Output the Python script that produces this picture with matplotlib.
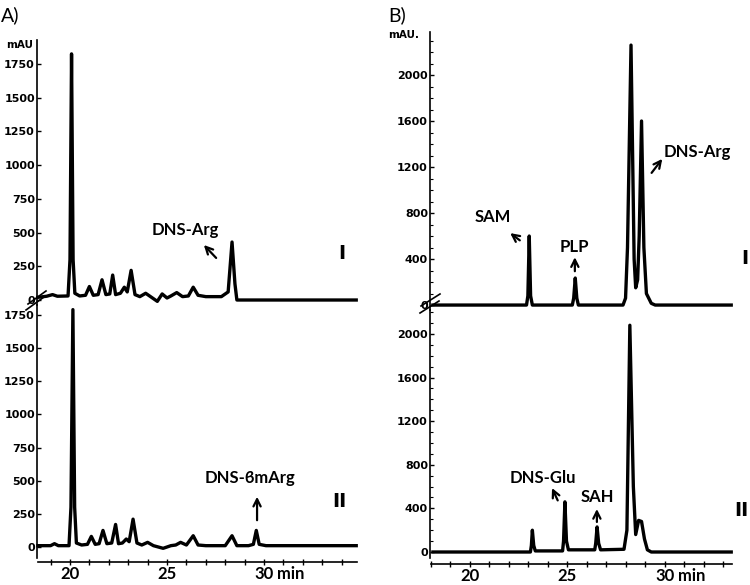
import matplotlib
matplotlib.use('Agg')
import matplotlib.pyplot as plt
from matplotlib.lines import Line2D
from matplotlib.ticker import MultipleLocator, FixedLocator

## traces (time in min, signal in mAU)
a1_time = [18.35, 18.8, 19.1, 19.35, 19.9, 20.0, 20.08, 20.16, 20.25, 20.5, 20.8, 21.0, 21.2,
           21.45, 21.65, 21.85, 22.05, 22.2, 22.35, 22.6, 22.8, 22.95, 23.15, 23.35, 23.6,
           23.9, 24.2, 24.5, 24.75, 25.0, 25.2, 25.5, 25.8, 26.1, 26.35, 26.6, 27.0, 27.8,
           28.15, 28.35, 28.5, 28.6, 34.75]
a1_mau = [20, 28, 40, 28, 30, 300, 1825, 300, 50, 30, 35, 100, 35,
          40, 150, 40, 45, 185, 40, 50, 95, 60, 220, 40, 25,
          50, 20, -10, 45, 15, 30, 55, 25, 30, 95, 35, 25, 25,
          60, 430, 120, 0, 0]

a2_time = [18.35, 19.0, 19.2, 19.4, 19.95, 20.05, 20.15, 20.24, 20.33, 20.6, 20.9, 21.1, 21.3,
           21.5, 21.7, 21.9, 22.15, 22.35, 22.5, 22.7, 22.9, 23.05, 23.25, 23.45, 23.7,
           24.0, 24.3, 24.8, 25.2, 25.45, 25.7, 26.0, 26.35, 26.6, 27.0, 28.0, 28.35, 28.6,
           29.2, 29.45, 29.6, 29.75, 30.1, 34.75]
a2_mau = [10, 10, 25, 10, 10, 300, 1790, 300, 30, 15, 20, 80, 20,
          25, 125, 25, 30, 170, 25, 30, 60, 40, 210, 30, 15,
          35, 10, -10, 10, 15, 35, 15, 85, 15, 10, 10, 85, 10,
          10, 20, 125, 20, 10, 10]

b1_time = [18.1, 22.9, 22.97, 23.04, 23.11, 23.2, 25.25, 25.32, 25.4, 25.48, 25.56, 27.85,
           27.98, 28.08, 28.26, 28.42, 28.5, 28.6, 28.68, 28.8, 28.92, 29.05, 29.3, 29.5, 33.4]
b1_mau = [0, 0, 80, 600, 80, 0, 0, 60, 235, 60, 0, 0,
          60, 500, 2260, 400, 150, 220, 600, 1600, 500, 100, 15, 0, 0]

b2_time = [18.1, 23.1, 23.15, 23.2, 23.27, 23.35, 24.75, 24.8, 24.87, 24.95, 25.05, 26.4,
           26.45, 26.52, 26.6, 26.7, 27.9, 28.05, 28.2, 28.38, 28.5, 28.65, 28.8, 28.95,
           29.1, 29.3, 33.4]
b2_mau = [0, 0, 60, 200, 60, 10, 10, 100, 460, 100, 20, 20,
          80, 230, 80, 20, 25, 200, 2080, 600, 160, 290, 280, 120,
          20, 0, 0]

a_yticks = [0, 250, 500, 750, 1000, 1250, 1500, 1750]
b_yticks = [0, 400, 800, 1200, 1600, 2000]
x_ticks = [20, 25, 30]

W, H = 750, 585
LABFONT = dict(family='Lato', weight='bold')


def box(l, t, r, b):
    return [l / W, 1 - b / H, (r - l) / W, (b - t) / H]


def setup(ax, xlim, ylim, yticks, minor_y=None, xaxis=False, offset=4):
    ax.set_xlim(*xlim)
    ax.set_ylim(*ylim)
    ax.patch.set_visible(False)
    for s in ['top', 'right']:
        ax.spines[s].set_visible(False)
    ax.spines['left'].set_linewidth(1.2)
    ax.set_yticks(yticks)
    ax.set_yticklabels([str(v) for v in yticks])
    ax.tick_params(axis='y', direction='in', length=3, width=1, pad=1.5)
    for lab in ax.get_yticklabels():
        lab.set_family('DejaVu Sans')
        lab.set_weight('bold')
        lab.set_size(8)
    if minor_y:
        ax.yaxis.set_minor_locator(MultipleLocator(minor_y))
        ax.tick_params(axis='y', which='minor', direction='in', length=2, width=0.8)
    if xaxis:
        ax.spines['bottom'].set_position(('outward', offset))
        ax.spines['bottom'].set_linewidth(1.2)
        ax.spines['bottom'].set_bounds(xlim[0] + 0.05, xlim[1])
        ax.xaxis.set_major_locator(FixedLocator(x_ticks))
        ax.xaxis.set_minor_locator(MultipleLocator(1))
        ax.set_xticklabels([str(v) for v in x_ticks])
        ax.tick_params(axis='x', which='both', direction='inout', length=4, width=1, pad=1)
        for lab in ax.get_xticklabels():
            lab.set_family('Lato')
            lab.set_weight('bold')
            lab.set_size(12)
        ax.annotate('min', xy=(30.68, 0), xycoords=ax.get_xaxis_transform(),
                    xytext=(0, -(offset + 3)), textcoords='offset points',
                    ha='left', va='top', fontsize=12, **LABFONT)
    else:
        ax.spines['bottom'].set_visible(False)
        ax.set_xticks([])


def arrow(ax, x0, y0, x1, y1):
    ax.annotate('', xy=(x1, y1), xytext=(x0, y0),
                arrowprops=dict(arrowstyle='->', lw=1.6, color='black',
                                mutation_scale=13))


def brk(fig, pts):
    for (x0, y0, x1, y1) in pts:
        fig.add_artist(Line2D([x0 / W, x1 / W], [1 - y0 / H, 1 - y1 / H],
                              transform=fig.transFigure, color='black', lw=1.2))


fig = plt.figure(figsize=(7.5, 5.85), dpi=100)

ax_a1 = fig.add_axes(box(37, 40, 357, 305))
ax_a2 = fig.add_axes(box(37, 305, 357, 558))
ax_b1 = fig.add_axes(box(430, 32, 732, 310))
ax_b2 = fig.add_axes(box(430, 310, 732, 558))

a_xlim = (18.30, 34.79)
b_xlim = (17.95, 33.44)

for ax, t, y in [(ax_a1, a1_time, a1_mau), (ax_a2, a2_time, a2_mau),
                 (ax_b1, b1_time, b1_mau), (ax_b2, b2_time, b2_mau)]:
    ax.plot(t, y, color='black', lw=2.4, solid_joinstyle='round', clip_on=False)

setup(ax_a1, a_xlim, (-37, 1928), a_yticks)
setup(ax_a2, a_xlim, (-83, 1825), a_yticks, xaxis=True, offset=3)
setup(ax_b1, b_xlim, (-43, 2374), b_yticks, minor_y=100)
setup(ax_b2, b_xlim, (-55, 2220), b_yticks, minor_y=100, xaxis=True, offset=4.5)

# labels panel A
ax_a1.text(25.93, 519, 'DNS-Arg', ha='center', va='center', fontsize=12, **LABFONT)
arrow(ax_a1, 27.63, 297, 26.8, 423)
ax_a1.text(34.0, 348, 'I', ha='center', va='center', fontsize=14,
           family='DejaVu Sans', weight='bold')
ax_a2.text(29.28, 520, 'DNS-ϐmArg', ha='center', va='center', fontsize=12, **LABFONT)
arrow(ax_a2, 29.64, 181, 29.64, 400)
ax_a2.text(33.9, 340, 'II', ha='center', va='center', fontsize=14,
           family='DejaVu Sans', weight='bold')

# labels panel B
ax_b1.text(21.18, 765, 'SAM', ha='center', va='center', fontsize=12, **LABFONT)
arrow(ax_b1, 22.67, 548, 21.95, 640)
ax_b1.text(25.38, 504, 'PLP', ha='center', va='center', fontsize=12, **LABFONT)
arrow(ax_b1, 25.38, 270, 25.38, 440)
ax_b1.text(31.64, 1330, 'DNS-Arg', ha='center', va='center', fontsize=12, **LABFONT)
arrow(ax_b1, 29.23, 1130, 29.95, 1290)
ax_b1.text(34.1, 409, 'I', ha='center', va='center', fontsize=14,
           family='DejaVu Sans', weight='bold')
ax_b2.text(33.9, 385, 'II', ha='center', va='center', fontsize=14,
           family='DejaVu Sans', weight='bold')
ax_b2.text(23.74, 679, 'DNS-Glu', ha='center', va='center', fontsize=12, **LABFONT)
arrow(ax_b2, 24.56, 450, 24.15, 610)
ax_b2.text(26.51, 505, 'SAH', ha='center', va='center', fontsize=12, **LABFONT)
arrow(ax_b2, 26.51, 250, 26.51, 420)

# unit labels and panel letters
fig.text(20 / W, 1 - 45 / H, 'mAU', ha='center', va='center', fontsize=7.5,
         family='DejaVu Sans', weight='bold')
fig.text(404 / W, 1 - 35 / H, 'mAU.', ha='center', va='center', fontsize=7.5,
         family='DejaVu Sans', weight='bold')
fig.text(1 / W, 1 - 15 / H, 'A)', ha='left', va='center', fontsize=14, family='Lato')
fig.text(388 / W, 1 - 15 / H, 'B)', ha='left', va='center', fontsize=14, family='Lato')

# axis break marks
brk(fig, [(28, 304, 46, 291), (26, 310, 44, 297)])
brk(fig, [(421, 306, 440, 294), (420, 313, 439, 301)])

fig.savefig('out.png', dpi=100)
